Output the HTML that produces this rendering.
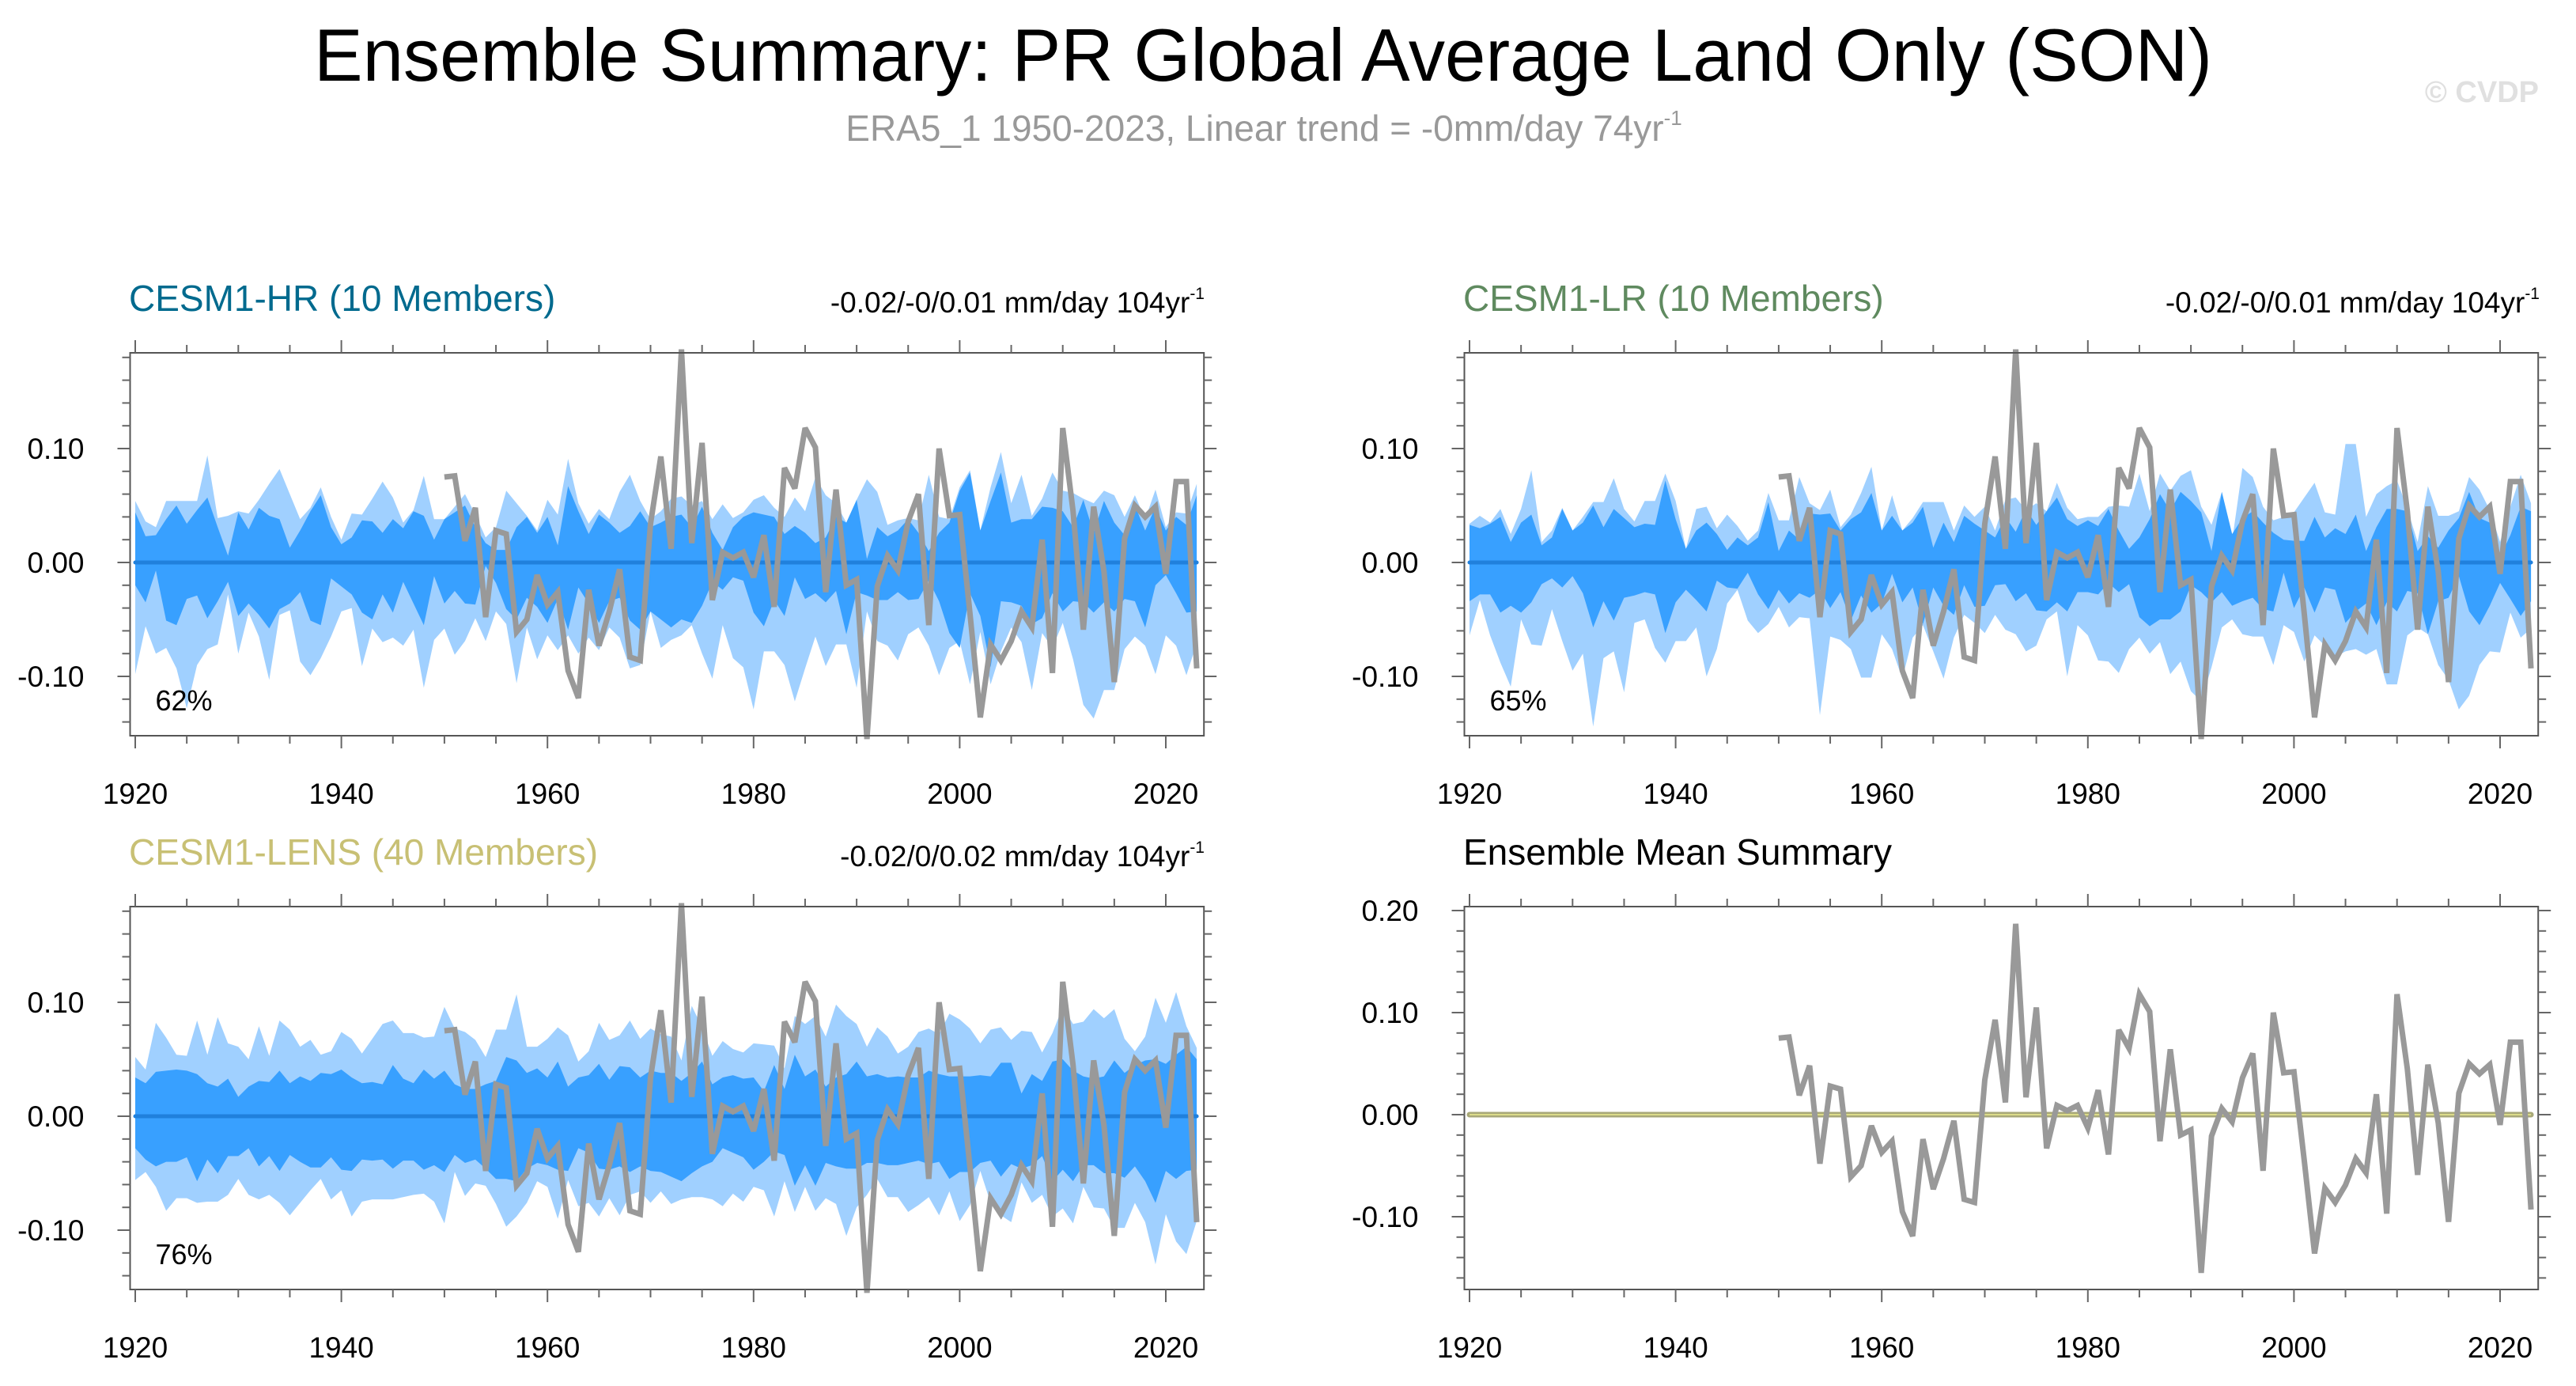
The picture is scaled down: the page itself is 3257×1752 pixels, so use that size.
<!DOCTYPE html>
<html>
<head>
<meta charset="utf-8">
<style>
html,body{margin:0;padding:0;background:#fff;}
svg{display:block;font-family:"Liberation Sans",Arial,sans-serif;}
</style>
</head>
<body>
<svg id="chart" xmlns="http://www.w3.org/2000/svg" width="3257" height="1752" viewBox="0 0 3257 1752">
  <rect x="0" y="0" width="3257" height="1752" fill="#fff"/>
  <text x="1597" y="102" font-size="94" text-anchor="middle" fill="#000" textLength="2400" lengthAdjust="spacingAndGlyphs">Ensemble Summary: PR Global Average Land Only (SON)</text>
  <text x="1598" y="178" font-size="46" text-anchor="middle" fill="#999">ERA5_1 1950-2023, Linear trend = -0mm/day 74yr<tspan font-size="26" dy="-20">-1</tspan></text>
  <text x="3210" y="129" font-size="38" font-weight="bold" text-anchor="end" fill="#e0e0e0">© CVDP</text>

  <text x="163" y="393" font-size="46" fill="#006a8e">CESM1-HR (10 Members)</text>
  <text x="1523" y="395" font-size="37" text-anchor="end" fill="#000">-0.02/-0/0.01 mm/day 104yr<tspan font-size="21" dy="-17">-1</tspan></text>
  <text x="1850" y="393" font-size="46" fill="#5f8a5f">CESM1-LR (10 Members)</text>
  <text x="3211" y="395" font-size="37" text-anchor="end" fill="#000">-0.02/-0/0.01 mm/day 104yr<tspan font-size="21" dy="-17">-1</tspan></text>
  <text x="163" y="1093" font-size="46" fill="#c8c074">CESM1-LENS (40 Members)</text>
  <text x="1523" y="1095" font-size="37" text-anchor="end" fill="#000">-0.02/0/0.02 mm/day 104yr<tspan font-size="21" dy="-17">-1</tspan></text>
  <text x="1850" y="1093" font-size="46" fill="#000">Ensemble Mean Summary</text>
  <g id="plots"></g>
</svg>
<script>
const NS = "http://www.w3.org/2000/svg";
const obsYears = [1950,1951,1952,1953,1954,1955,1956,1957,1958,1959,1960,1961,1962,1963,1964,1965,1966,1967,1968,1969,1970,1971,1972,1973,1974,1975,1976,1977,1978,1979,1980,1981,1982,1983,1984,1985,1986,1987,1988,1989,1990,1991,1992,1993,1994,1995,1996,1997,1998,1999,2000,2001,2002,2003,2004,2005,2006,2007,2008,2009,2010,2011,2012,2013,2014,2015,2016,2017,2018,2019,2020,2021,2022,2023];
const obsValues = [0.075,0.076,0.019,0.048,-0.048,0.028,0.025,-0.061,-0.050,-0.011,-0.037,-0.026,-0.095,-0.119,-0.024,-0.073,-0.043,-0.006,-0.083,-0.086,0.034,0.093,0.012,0.187,0.017,0.105,-0.033,0.009,0.004,0.009,-0.013,0.024,-0.039,0.083,0.065,0.118,0.101,-0.026,0.064,-0.020,-0.015,-0.155,-0.021,0.006,-0.007,0.036,0.060,-0.055,0.100,0.041,0.042,-0.045,-0.136,-0.072,-0.086,-0.069,-0.043,-0.057,0.020,-0.097,0.118,0.045,-0.059,0.049,-0.008,-0.105,0.021,0.050,0.040,0.049,-0.010,0.071,0.071,-0.093];
const bandStartYear = 1920;
const hrOuterUp = [0.054,0.036,0.031,0.054,0.054,0.054,0.054,0.094,0.039,0.041,0.045,0.043,0.055,0.069,0.082,0.060,0.038,0.048,0.066,0.040,0.020,0.043,0.042,0.056,0.071,0.057,0.035,0.046,0.076,0.038,0.038,0.049,0.060,0.042,0.022,0.031,0.063,0.052,0.041,0.028,0.055,0.042,0.091,0.052,0.034,0.047,0.038,0.062,0.077,0.054,0.038,0.045,
0.056,0.058,0.050,0.054,0.038,0.051,0.039,0.044,0.055,0.059,0.048,0.040,0.057,0.045,0.075,0.059,0.052,0.035,0.055,0.073,0.062,0.033,0.037,0.039,0.037,0.077,0.040,0.038,0.066,0.081,0.028,0.066,0.097,0.052,0.077,0.041,0.056,0.079,0.063,0.061,0.056,0.052,0.063,0.059,0.040,0.059,0.038,0.064,0.031,0.044,0.043,0.069];
const hrInnerUp = [0.044,0.023,0.024,0.038,0.050,0.034,0.046,0.057,0.031,0.006,0.044,0.029,0.048,0.041,0.038,0.013,0.028,0.045,0.059,0.031,0.016,0.022,0.037,0.036,0.026,0.038,0.030,0.045,0.041,0.020,0.038,0.044,0.050,0.031,0.017,0.011,0.011,0.031,0.040,0.026,0.040,0.015,0.067,0.045,0.025,0.042,0.035,0.026,0.032,0.045,0.031,0.035,
0.040,0.042,0.031,0.049,0.026,0.011,0.031,0.040,0.044,0.042,0.040,0.025,0.032,0.026,0.017,0.022,0.040,0.035,0.055,0.003,0.031,0.023,0.028,0.038,0.026,0.010,0.026,0.035,0.063,0.079,0.028,0.054,0.079,0.035,0.038,0.038,0.049,0.048,0.045,0.031,0.055,0.026,0.054,0.035,0.024,0.050,0.028,0.049,0.028,0.040,0.033,0.059];
const hrInnerLo = [-0.020,-0.035,-0.007,-0.051,-0.055,-0.032,-0.029,-0.049,-0.034,-0.017,-0.047,-0.036,-0.046,-0.058,-0.041,-0.036,-0.026,-0.051,-0.055,-0.014,-0.021,-0.028,-0.044,-0.050,-0.028,-0.044,-0.017,-0.036,-0.055,-0.012,-0.036,-0.025,-0.036,-0.037,-0.003,-0.018,-0.041,-0.050,-0.031,-0.039,-0.053,-0.032,-0.059,-0.022,-0.036,-0.053,-0.034,-0.031,-0.051,-0.059,-0.043,-0.050,
-0.057,-0.050,-0.053,-0.038,-0.017,-0.024,-0.013,-0.016,-0.044,-0.056,-0.033,-0.047,-0.013,-0.032,-0.027,-0.035,-0.025,-0.063,-0.026,-0.029,-0.033,-0.033,-0.026,-0.033,-0.032,-0.016,-0.034,-0.062,-0.075,-0.027,-0.047,-0.092,-0.034,-0.035,-0.038,-0.054,-0.049,-0.027,-0.043,-0.034,-0.035,-0.044,-0.035,-0.043,-0.032,-0.034,-0.057,-0.020,-0.011,-0.027,-0.044,-0.043];
const hrOuterLo = [-0.098,-0.056,-0.080,-0.075,-0.093,-0.128,-0.090,-0.076,-0.072,-0.028,-0.080,-0.044,-0.065,-0.103,-0.046,-0.042,-0.087,-0.099,-0.084,-0.065,-0.043,-0.040,-0.091,-0.058,-0.070,-0.066,-0.073,-0.059,-0.110,-0.068,-0.058,-0.081,-0.069,-0.049,-0.069,-0.043,-0.054,-0.106,-0.057,-0.085,-0.064,-0.077,-0.064,-0.080,-0.066,-0.077,-0.057,-0.066,-0.093,-0.090,-0.043,-0.075,
-0.068,-0.064,-0.055,-0.080,-0.102,-0.055,-0.084,-0.092,-0.129,-0.078,-0.078,-0.090,-0.122,-0.093,-0.065,-0.091,-0.072,-0.072,-0.110,-0.043,-0.069,-0.073,-0.086,-0.063,-0.057,-0.073,-0.099,-0.075,-0.069,-0.107,-0.061,-0.107,-0.078,-0.057,-0.070,-0.112,-0.062,-0.075,-0.053,-0.085,-0.125,-0.137,-0.112,-0.112,-0.076,-0.065,-0.073,-0.098,-0.064,-0.073,-0.099,-0.071];

const lrOuterUp = [0.034,0.041,0.035,0.047,0.025,0.047,0.081,0.018,0.028,0.048,0.028,0.040,0.053,0.053,0.074,0.047,0.036,0.054,0.054,0.078,0.054,0.012,0.047,0.049,0.030,0.042,0.032,0.019,0.028,0.061,0.037,0.037,0.075,0.052,0.046,0.064,0.031,0.042,0.061,0.084,0.028,0.059,0.028,0.039,0.053,0.053,0.053,0.028,0.050,0.040,0.049,0.028,
0.055,0.057,0.046,0.052,0.045,0.070,0.048,0.038,0.040,0.040,0.049,0.050,0.049,0.078,0.045,0.078,0.063,0.076,0.081,0.049,0.033,0.062,0.019,0.083,0.075,0.049,0.037,0.040,0.044,0.057,0.070,0.044,0.042,0.104,0.104,0.040,0.060,0.067,0.072,0.047,0.018,0.067,0.041,0.041,0.045,0.075,0.064,0.046,0.018,0.049,0.077,0.052];
const lrInnerUp = [0.033,0.030,0.034,0.040,0.018,0.035,0.042,0.015,0.022,0.047,0.028,0.035,0.050,0.031,0.047,0.039,0.031,0.034,0.033,0.072,0.038,0.012,0.028,0.035,0.025,0.011,0.022,0.015,0.022,0.053,0.010,0.028,0.020,0.043,0.042,0.043,0.028,0.038,0.044,0.061,0.028,0.041,0.028,0.035,0.049,0.013,0.035,0.018,0.041,0.034,0.028,0.022,
0.040,0.027,0.047,0.033,0.045,0.057,0.038,0.032,0.037,0.032,0.047,0.028,0.012,0.022,0.038,0.060,0.045,0.062,0.054,0.044,0.010,0.062,0.025,0.039,0.045,0.035,0.026,0.020,0.019,0.019,0.040,0.022,0.030,0.025,0.042,0.010,0.031,0.047,0.047,0.045,0.010,0.023,0.013,0.028,0.039,0.062,0.039,0.035,0.005,0.024,0.049,0.045];
const lrInnerLo = [-0.034,-0.028,-0.028,-0.044,-0.038,-0.044,-0.035,-0.019,-0.014,-0.022,-0.012,-0.027,-0.057,-0.034,-0.051,-0.031,-0.029,-0.026,-0.028,-0.062,-0.035,-0.024,-0.033,-0.043,-0.016,-0.022,-0.023,-0.009,-0.028,-0.041,-0.024,-0.036,-0.027,-0.031,-0.024,-0.040,-0.026,-0.051,-0.029,-0.044,-0.036,-0.010,-0.035,-0.022,-0.054,-0.022,-0.038,-0.046,-0.020,-0.039,-0.038,-0.020,
-0.019,-0.034,-0.027,-0.042,-0.043,-0.035,-0.043,-0.026,-0.026,-0.028,-0.018,-0.026,-0.019,-0.048,-0.056,-0.050,-0.050,-0.043,-0.020,-0.026,-0.035,-0.026,-0.038,-0.034,-0.031,-0.041,-0.043,-0.009,-0.040,-0.022,-0.044,-0.022,-0.024,-0.053,-0.043,-0.036,-0.055,-0.035,-0.043,-0.025,-0.027,-0.063,-0.034,-0.031,-0.012,-0.043,-0.055,-0.038,-0.018,-0.032,-0.047,-0.034];
const lrOuterLo = [-0.064,-0.033,-0.064,-0.088,-0.109,-0.050,-0.072,-0.073,-0.041,-0.069,-0.095,-0.080,-0.144,-0.084,-0.078,-0.114,-0.053,-0.050,-0.075,-0.088,-0.069,-0.069,-0.057,-0.100,-0.076,-0.036,-0.024,-0.051,-0.062,-0.054,-0.039,-0.057,-0.048,-0.049,-0.134,-0.065,-0.068,-0.076,-0.101,-0.101,-0.063,-0.076,-0.102,-0.066,-0.055,-0.078,-0.102,-0.066,-0.046,-0.053,-0.062,-0.046,
-0.059,-0.063,-0.078,-0.073,-0.050,-0.043,-0.100,-0.055,-0.064,-0.086,-0.087,-0.097,-0.076,-0.066,-0.080,-0.070,-0.098,-0.087,-0.113,-0.122,-0.092,-0.057,-0.050,-0.063,-0.065,-0.065,-0.090,-0.055,-0.061,-0.087,-0.064,-0.073,-0.083,-0.078,-0.076,-0.081,-0.076,-0.107,-0.107,-0.064,-0.057,-0.063,-0.090,-0.103,-0.129,-0.117,-0.090,-0.078,-0.079,-0.044,-0.066,-0.058];

const lensOuterUp = [0.052,0.041,0.082,0.069,0.054,0.053,0.084,0.054,0.087,0.064,0.061,0.050,0.079,0.053,0.084,0.076,0.061,0.067,0.054,0.057,0.074,0.068,0.055,0.068,0.081,0.084,0.073,0.073,0.069,0.070,0.096,0.077,0.074,0.067,0.052,0.076,0.076,0.107,0.061,0.061,0.068,0.078,0.071,0.048,0.057,0.082,0.067,0.071,0.084,0.068,0.077,0.072,
0.070,0.049,0.097,0.078,0.053,0.066,0.059,0.056,0.064,0.063,0.062,0.042,0.088,0.081,0.088,0.070,0.098,0.088,0.081,0.061,0.078,0.070,0.055,0.061,0.074,0.077,0.072,0.090,0.085,0.077,0.064,0.076,0.078,0.067,0.075,0.074,0.056,0.073,0.096,0.081,0.083,0.094,0.086,0.094,0.068,0.057,0.070,0.104,0.082,0.109,0.079,0.060];
const lensInnerUp = [0.034,0.029,0.039,0.040,0.041,0.040,0.037,0.029,0.026,0.033,0.017,0.026,0.031,0.030,0.040,0.029,0.035,0.031,0.038,0.037,0.041,0.034,0.029,0.030,0.028,0.045,0.033,0.029,0.041,0.033,0.040,0.028,0.024,0.024,0.028,0.031,0.052,0.049,0.038,0.042,0.034,0.048,0.026,0.034,0.036,0.046,0.032,0.044,0.043,0.034,0.040,0.038,
0.038,0.031,0.038,0.048,0.028,0.034,0.036,0.033,0.034,0.022,0.045,0.024,0.054,0.035,0.041,0.026,0.034,0.037,0.048,0.035,0.037,0.034,0.035,0.034,0.034,0.040,0.037,0.035,0.035,0.035,0.036,0.035,0.047,0.047,0.020,0.037,0.031,0.048,0.050,0.040,0.035,0.033,0.035,0.049,0.038,0.045,0.049,0.050,0.046,0.054,0.061,0.050];
const lensInnerLo = [-0.028,-0.038,-0.044,-0.040,-0.040,-0.036,-0.057,-0.038,-0.050,-0.035,-0.035,-0.028,-0.044,-0.035,-0.048,-0.034,-0.040,-0.045,-0.045,-0.036,-0.047,-0.048,-0.038,-0.039,-0.038,-0.046,-0.039,-0.039,-0.047,-0.043,-0.049,-0.034,-0.041,-0.038,-0.046,-0.055,-0.055,-0.057,-0.046,-0.041,-0.043,-0.047,-0.048,-0.028,-0.032,-0.046,-0.047,-0.044,-0.049,-0.044,-0.048,-0.049,
-0.053,-0.057,-0.050,-0.044,-0.040,-0.028,-0.032,-0.036,-0.047,-0.040,-0.031,-0.034,-0.061,-0.043,-0.061,-0.041,-0.044,-0.046,-0.046,-0.041,-0.041,-0.043,-0.043,-0.041,-0.039,-0.042,-0.040,-0.055,-0.049,-0.049,-0.041,-0.039,-0.053,-0.042,-0.046,-0.043,-0.035,-0.057,-0.047,-0.057,-0.043,-0.043,-0.050,-0.050,-0.054,-0.044,-0.057,-0.076,-0.048,-0.055,-0.048,-0.047];
const lensOuterLo = [-0.056,-0.049,-0.062,-0.083,-0.072,-0.072,-0.076,-0.075,-0.075,-0.069,-0.055,-0.069,-0.073,-0.069,-0.076,-0.087,-0.076,-0.065,-0.055,-0.073,-0.065,-0.088,-0.075,-0.073,-0.073,-0.073,-0.071,-0.069,-0.068,-0.075,-0.094,-0.049,-0.070,-0.059,-0.061,-0.077,-0.097,-0.088,-0.076,-0.057,-0.062,-0.090,-0.056,-0.079,-0.076,-0.088,-0.072,-0.087,-0.069,-0.066,-0.076,-0.066,
-0.077,-0.073,-0.071,-0.071,-0.073,-0.079,-0.068,-0.075,-0.062,-0.065,-0.088,-0.057,-0.084,-0.062,-0.083,-0.072,-0.077,-0.105,-0.080,-0.069,-0.055,-0.071,-0.071,-0.084,-0.078,-0.071,-0.087,-0.066,-0.092,-0.078,-0.048,-0.076,-0.087,-0.093,-0.058,-0.076,-0.069,-0.088,-0.081,-0.094,-0.062,-0.080,-0.081,-0.098,-0.098,-0.076,-0.093,-0.130,-0.086,-0.110,-0.121,-0.092];

const ensembleMeanLevels = [0];
const bandYTicks = [-0.10, 0.00, 0.10];
const bandYTickLabels = ["-0.10", "0.00", "0.10"];
const meanYTicks = [-0.10, 0.00, 0.10, 0.20];
const meanYTickLabels = ["-0.10", "0.00", "0.10", "0.20"];
const xTicks = [1920, 1940, 1960, 1980, 2000, 2020];
const xTickLabels = ["1920", "1940", "1960", "1980", "2000", "2020"];

const root = document.getElementById('plots');
function mk(tag, attrs, parent) {
  const e = document.createElementNS(NS, tag);
  for (const k in attrs) e.setAttribute(k, attrs[k]);
  (parent || root).appendChild(e);
  return e;
}

function makePanel(cfg) {
  const g = mk('g', {});
  
  
  const pxYr = 13.03;
  const xOf = yr => cfg.x1920 + (yr - 1920) * pxYr;
  const left = cfg.x1920 - 6.5, right = cfg.x1920 + 103.7 * pxYr;
  const top = cfg.top, bottom = cfg.top + 484;
  const zeroY = top + cfg.zeroOff;
  const yOf = v => zeroY - v * cfg.pxPerUnit;
  const vmax = cfg.zeroOff / cfg.pxPerUnit, vmin = -(484 - cfg.zeroOff) / cfg.pxPerUnit;

  if (cfg.outerUp) {
    const n = Math.min(cfg.outerUp.length, cfg.outerLo.length);
    let pts = [];
    for (let i = 0; i < n; i++) pts.push(xOf(bandStartYear + i) + ',' + yOf(cfg.outerUp[i]));
    for (let i = n - 1; i >= 0; i--) pts.push(xOf(bandStartYear + i) + ',' + yOf(cfg.outerLo[i]));
    const outer = mk('polygon', {points: pts.join(' '), fill: '#a0d0ff'}, g);
    
    
    const m = Math.min(cfg.innerUp.length, cfg.innerLo.length);
    pts = [];
    for (let i = 0; i < m; i++) pts.push(xOf(bandStartYear + i) + ',' + yOf(cfg.innerUp[i]));
    for (let i = m - 1; i >= 0; i--) pts.push(xOf(bandStartYear + i) + ',' + yOf(cfg.innerLo[i]));
    const inner = mk('polygon', {points: pts.join(' '), fill: '#38a0ff'}, g);
    
    
    const zl = mk('line', {x1: xOf(1920), x2: xOf(2023), y1: yOf(0), y2: yOf(0), stroke: '#2080dc', 'stroke-width': 5, 'stroke-linecap': 'round'}, g);
    
    
  } else {
    ensembleMeanLevels.forEach(v => {
      const l1 = mk('line', {x1: xOf(1920), x2: xOf(2023), y1: yOf(v), y2: yOf(v), stroke: '#a8a878', 'stroke-width': 7, 'stroke-linecap': 'round'}, g);
      
      
      const l2 = mk('line', {x1: xOf(1920), x2: xOf(2023), y1: yOf(v), y2: yOf(v), stroke: '#dcdc8a', 'stroke-width': 2}, g);
      
      
    });
  }
  const op = obsYears.map((yr, i) => xOf(yr) + ',' + yOf(obsValues[i])).join(' ');
  const obs = mk('polyline', {points: op, fill: 'none', stroke: '#999999', 'stroke-width': 7, 'stroke-linejoin': 'miter', 'stroke-miterlimit': 3}, g);
  
  

  const frame = mk('rect', {x: left, y: top, width: right - left, height: bottom - top, fill: 'none', stroke: '#555', 'stroke-width': 2}, g);
  
  

  const tg = mk('g', {stroke: '#666', 'stroke-width': 2}, g);
  
  
  for (let yr = 1920; yr <= 2020; yr += 5) {
    const major = (yr % 20 === 0), L = major ? 16 : 10, x = xOf(yr);
    mk('line', {x1: x, x2: x, y1: bottom, y2: bottom + L}, tg);
    mk('line', {x1: x, x2: x, y1: top, y2: top - L}, tg);
  }
  for (let k = Math.ceil(vmin / 0.02 - 1e-6); k * 0.02 <= vmax + 1e-6; k++) {
    const v = k * 0.02, major = (k % 5 === 0), L = major ? 16 : 10, y = yOf(v);
    mk('line', {x1: left, x2: left - L, y1: y, y2: y}, tg);
    mk('line', {x1: right, x2: right + L, y1: y, y2: y}, tg);
  }
  xTicks.forEach((t, i) => {
    const tx = mk('text', {x: xOf(t), y: bottom + 86, 'font-size': 37, 'text-anchor': 'middle', fill: '#000'}, g);
    tx.textContent = xTickLabels[i];
    
    
  });
  cfg.yTicks.forEach((t, i) => {
    const ty = mk('text', {x: left - 58, y: yOf(t) + 13, 'font-size': 37, 'text-anchor': 'end', fill: '#000'}, g);
    ty.textContent = cfg.yTickLabels[i];
    
    
  });
  if (cfg.pct) {
    const p = mk('text', {x: left + 32, y: top + 452, 'font-size': 36, fill: '#000'}, g);
    p.textContent = cfg.pct;
    
    
  }
}

makePanel({name: 'cesm1-hr-panel', x1920: 171, top: 446, zeroOff: 265, pxPerUnit: 1440,
  outerUp: hrOuterUp, innerUp: hrInnerUp, innerLo: hrInnerLo, outerLo: hrOuterLo,
  yTicks: bandYTicks, yTickLabels: bandYTickLabels, pct: '62%'});
makePanel({name: 'cesm1-lr-panel', x1920: 1858, top: 446, zeroOff: 265, pxPerUnit: 1440,
  outerUp: lrOuterUp, innerUp: lrInnerUp, innerLo: lrInnerLo, outerLo: lrOuterLo,
  yTicks: bandYTicks, yTickLabels: bandYTickLabels, pct: '65%'});
makePanel({name: 'cesm1-lens-panel', x1920: 171, top: 1146, zeroOff: 265, pxPerUnit: 1440,
  outerUp: lensOuterUp, innerUp: lensInnerUp, innerLo: lensInnerLo, outerLo: lensOuterLo,
  yTicks: bandYTicks, yTickLabels: bandYTickLabels, pct: '76%'});
makePanel({name: 'ensemble-mean-panel', x1920: 1858, top: 1146, zeroOff: 263, pxPerUnit: 1290,
  yTicks: meanYTicks, yTickLabels: meanYTickLabels, pct: null});
</script>
</body>
</html>
